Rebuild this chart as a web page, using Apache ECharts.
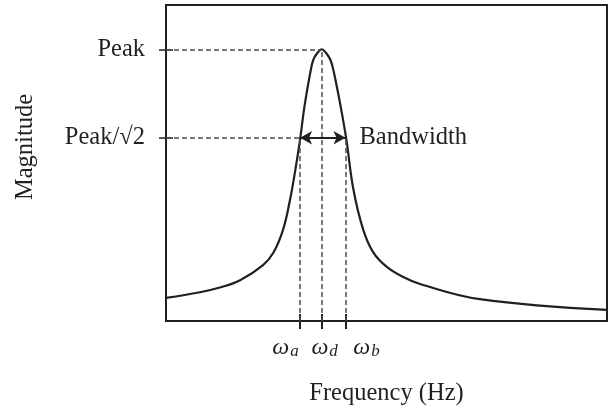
<!DOCTYPE html>
<html>
<head>
<meta charset="utf-8">
<script src="https://cdn.jsdelivr.net/npm/echarts@6/dist/echarts.min.js"></script>
<style>html,body{margin:0;padding:0;background:#fff}#c{width:611px;height:411px}</style>
</head>
<body>
<div id="c"></div>
<script>
// Curve samples (frequency 0-100, magnitude 0-100, arbitrary units)
const freq = [0, 7.7, 12.2, 16.8, 22.0, 24.3, 26.5, 28.1, 29.3, 30.4, 31.4, 32.7, 33.4, 34.3, 35.3, 36.3, 37.3, 38.1, 39.6, 40.9, 42.5, 44.7, 47.0, 50.0, 53.8, 57.6, 71.2, 100];
const mag  = [7.3, 9.1, 10.6, 12.9, 17.7, 21.5, 28.7, 38.2, 47.6, 57.4, 67.9, 78.5, 82.6, 84.8, 86.0, 84.8, 82.6, 78.5, 67.9, 57.4, 41.6, 29.0, 21.7, 17.2, 13.9, 11.7, 6.9, 3.5];
// Key frequencies: omega_a, omega_d, omega_b
const xTicks = [30.4, 35.4, 40.7];
const xTickSubs = ['a', 'd', 'b'];
// Key magnitudes
const peakVal = 85.8;
const bwVal = 58.0;
const yTicks = [bwVal, peakVal];
const yTickLabels = ['Peak/√2', 'Peak'];

const ink = '#231f20';
const dashColor = '#4d4d4d';
const font = 'Liberation Serif';
const fs = 24.5;

const chart = echarts.init(document.getElementById('c'));
const labelPads = [[0, 29, 0, 0], [0, 0, 0, 5], [0, 0, 0, 42]];
const dashStyle = {type: [5, 3], color: dashColor, width: 1.5};

const xAxes = xTicks.map((t, i) => ({
  type: 'value', min: 0, max: 100, position: 'bottom',
  axisLine: {show: false}, splitLine: {show: false},
  axisTick: {show: true, customValues: [t], length: 8, lineStyle: {color: ink, width: 2}},
  axisLabel: {
    customValues: [t], margin: 13, color: ink, hideOverlap: false, padding: labelPads[i],
    formatter: function () { return '{w|ω}{s|' + xTickSubs[i] + '}'; },
    rich: {
      w: {fontFamily: font, fontStyle: 'italic', fontSize: 24, color: ink, lineHeight: 26, verticalAlign: 'bottom'},
      s: {fontFamily: font, fontStyle: 'italic', fontSize: 17, color: ink, lineHeight: 20, padding: [9, 0, 0, 1], verticalAlign: 'bottom'}
    }
  }
}));
xAxes[0].name = 'Frequency (Hz)';
xAxes[0].nameLocation = 'middle';
xAxes[0].nameGap = 60;
xAxes[0].nameTextStyle = {fontFamily: font, fontSize: fs, color: ink};
xAxes.push({
  type: 'value', min: 0, max: 100, position: 'bottom',
  axisLine: {show: false}, splitLine: {show: false}, axisLabel: {show: false},
  axisTick: {show: true, inside: true, customValues: xTicks, length: 7, lineStyle: {color: ink, width: 2}}
});

chart.setOption({
  animation: false,
  grid: {left: 166, right: 4, top: 5, bottom: 89, show: true, borderColor: ink, borderWidth: 2, backgroundColor: 'transparent'},
  xAxis: xAxes,
  yAxis: [{
    type: 'value', min: 0, max: 100,
    axisLine: {show: false}, splitLine: {show: false},
    axisTick: {show: true, customValues: yTicks, length: 7, lineStyle: {color: ink, width: 1.5}},
    axisLabel: {
      customValues: yTicks, margin: 21, color: ink, fontFamily: font, fontSize: fs, hideOverlap: false,
      formatter: function (v) { return yTickLabels[yTicks.indexOf(v)]; }
    },
    name: 'Magnitude', nameLocation: 'middle', nameRotate: 90, nameGap: 128,
    nameTextStyle: {fontFamily: font, fontSize: fs, color: ink, padding: [0, 0, 0, 32]}
  }, {
    type: 'value', min: 0, max: 100, position: 'left',
    axisLine: {show: false}, splitLine: {show: false}, axisLabel: {show: false},
    axisTick: {show: true, inside: true, customValues: yTicks, length: 7, lineStyle: {color: ink, width: 1.5}}
  }],
  series: [{
    type: 'line',
    data: freq.map((f, i) => [f, mag[i]]),
    smooth: 0.4,
    showSymbol: false, symbol: 'none',
    lineStyle: {color: ink, width: 2.2},
    z: 3,
    markLine: {
      silent: true, symbol: 'none', animation: false,
      label: {show: false},
      lineStyle: dashStyle,
      data: [
        [{coord: [0, peakVal]}, {coord: [xTicks[1], peakVal]}],
        [{coord: [0, bwVal]}, {coord: [xTicks[0], bwVal]}],
        [{coord: [xTicks[0], 0]}, {coord: [xTicks[0], bwVal]}],
        [{coord: [xTicks[1], 0]}, {coord: [xTicks[1], peakVal]}],
        [{coord: [xTicks[2], 0]}, {coord: [xTicks[2], bwVal]}],
        [
          {coord: [xTicks[0], bwVal], symbol: 'arrow', symbolSize: [10, 12],
           lineStyle: {type: 'solid', color: ink, width: 1.8},
           label: {show: true, position: 'end', formatter: 'Bandwidth', distance: 14, fontFamily: font, fontSize: fs, color: ink}},
          {coord: [xTicks[2], bwVal], symbol: 'arrow', symbolSize: [10, 12]}
        ]
      ]
    }
  }]
});
</script>
</body>
</html>
